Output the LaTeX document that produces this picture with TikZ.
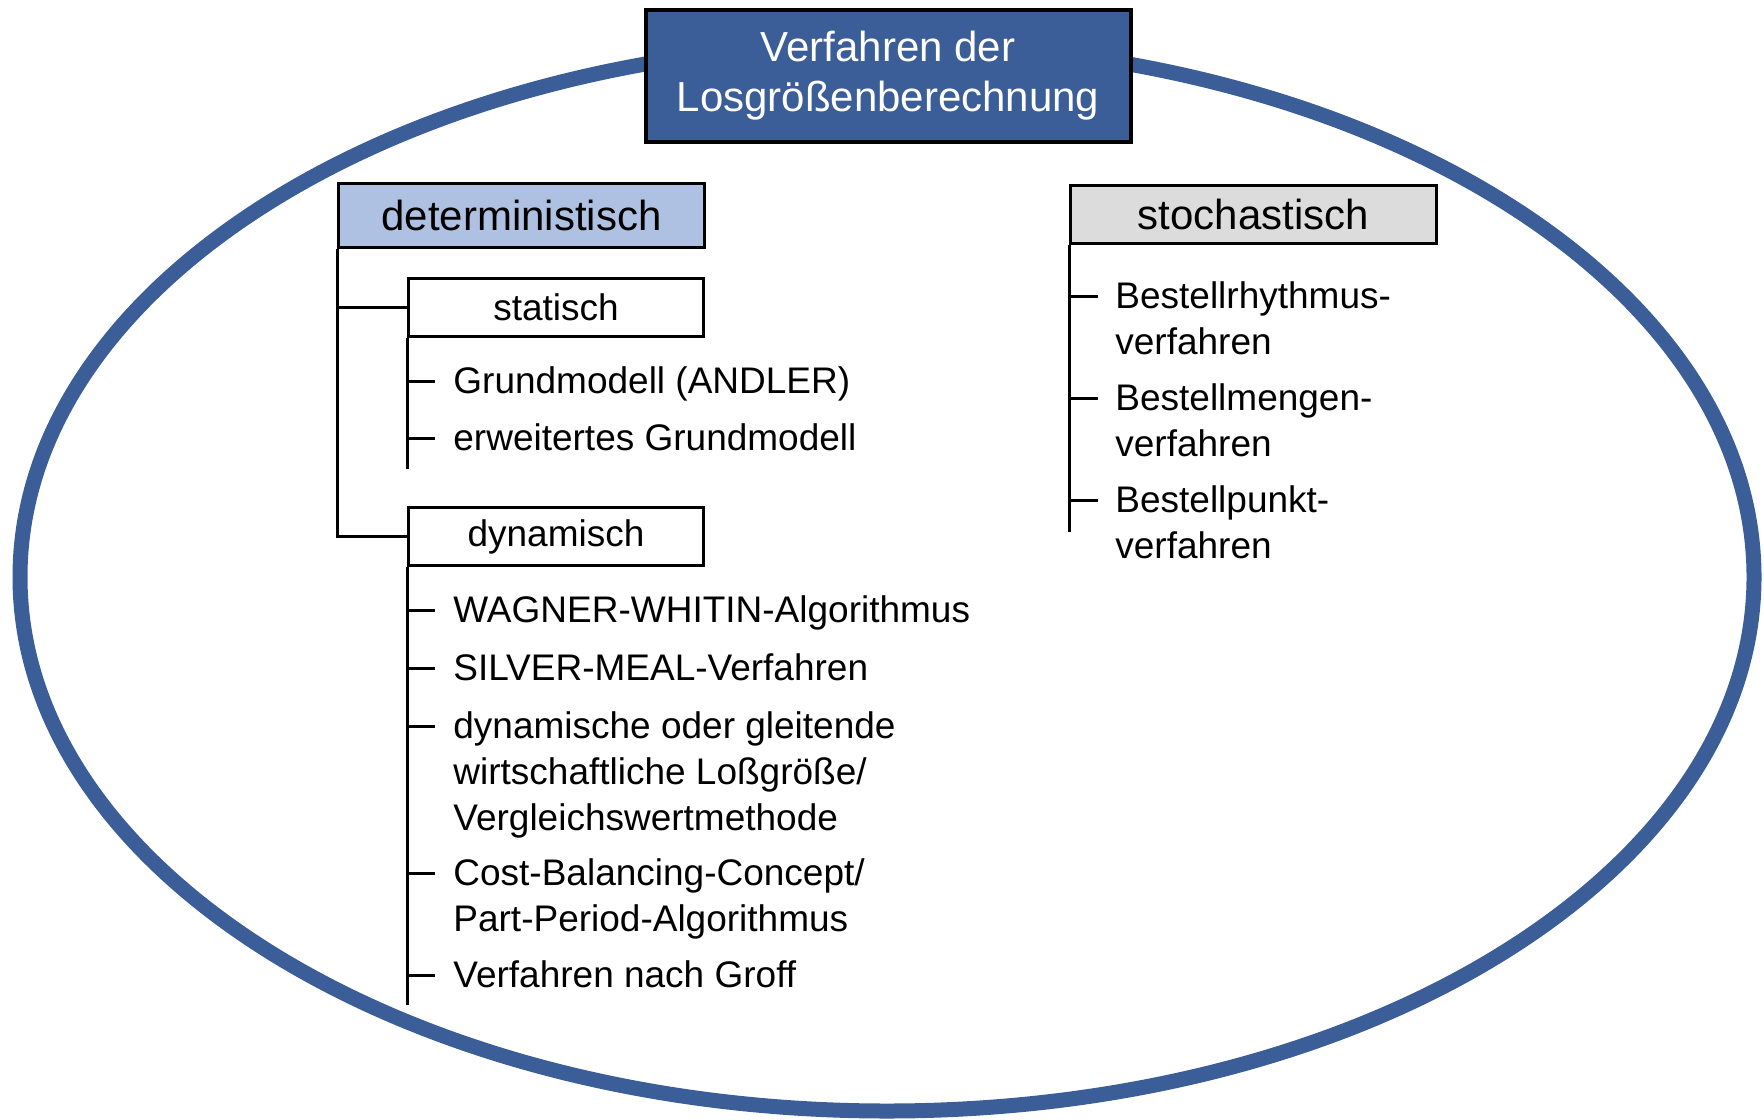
\documentclass[tikz,border=0pt]{standalone}
\usepackage{fontspec}
\setmainfont{Liberation Sans}
\usetikzlibrary{positioning}

\definecolor{ovalblue}{RGB}{59,94,152}
\definecolor{detblue}{RGB}{174,193,226}
\definecolor{stochgrey}{RGB}{220,220,220}

\begin{document}
\begin{tikzpicture}[x=0.5pt,y=-0.5pt,
   box/.style={draw,line width=1.5pt,inner sep=0pt},
   headbox/.style={box,minimum width=183pt,font=\fontsize{21}{25}\selectfont},
   subbox/.style={box,minimum width=147.5pt,minimum height=29pt,font=\fontsize{18.5}{23}\selectfont},
   item/.style={anchor=base west,inner sep=0pt,align=left,font=\fontsize{18.5}{23}\selectfont},
   treeline/.style={line width=1.5pt}]

\useasboundingbox (0,0) rectangle (1764,1119);

% outer oval
\draw[ovalblue,line width=7.5pt] (887,577) ellipse [x radius=433.5pt,y radius=267pt];

\node[box,line width=2pt,fill=ovalblue,text=white,minimum width=242.5pt,minimum height=66pt,
      align=center,font=\fontsize{21}{25}\selectfont] (title) at (888,75.5)
      {Verfahren der\\Losgrößenberechnung};

% deterministisch
\node[headbox,fill=detblue,minimum height=32pt] (det) at (521.5,215.5) {deterministisch};
\node[subbox] (stat) at (556,307.5) {statisch};
\node[subbox] (dyn) at (556,536.5) {dynamisch};

\draw[treeline] (det.south west) |- (stat.west);
\draw[treeline] (det.south west) |- (dyn.west);

\coordinate (statend) at (407,469);
\draw[treeline] (stat.south west) -- (statend);
\node[item] (s1) at (453,393) {Grundmodell (ANDLER)};
\node[item] (s2) at (453,450) {erweitertes Grundmodell};
\foreach \n/\ty in {s1/381,s2/438}
   \draw[treeline] (407,\ty) -- (435,\ty);

\coordinate (dynend) at (407,1005);
\draw[treeline] (dyn.south west) -- (dynend);
% base anchor sits on the last line
\node[item] (d1) at (453,622) {WAGNER-WHITIN-Algorithmus};
\node[item] (d2) at (453,680) {SILVER-MEAL-Verfahren};
\node[item] (d3) at (453,830) {dynamische oder gleitende\\wirtschaftliche Loßgröße/\\Vergleichswertmethode};
\node[item] (d4) at (453,931) {Cost-Balancing-Concept/\\Part-Period-Algorithmus};
\node[item] (d5) at (453,987) {Verfahren nach Groff};
\foreach \n/\ty in {d1/610,d2/668,d3/726,d4/873,d5/975}
   \draw[treeline] (407,\ty) -- (435,\ty);

% stochastisch
\node[headbox,fill=stochgrey,minimum height=29pt] (stoch) at (1253.5,214.5) {stochastisch};
\coordinate (stochend) at (1069,532);
\draw[treeline] (stoch.south west) -- (stochend);
\node[item] (b1) at (1115,354) {Bestellrhythmus-\\verfahren};
\node[item] (b2) at (1115,456) {Bestellmengen-\\verfahren};
\node[item] (b3) at (1115,558) {Bestellpunkt-\\verfahren};
\foreach \n/\ty in {b1/296,b2/398,b3/500}
   \draw[treeline] (1069,\ty) -- (1098,\ty);

\end{tikzpicture}
\end{document}
